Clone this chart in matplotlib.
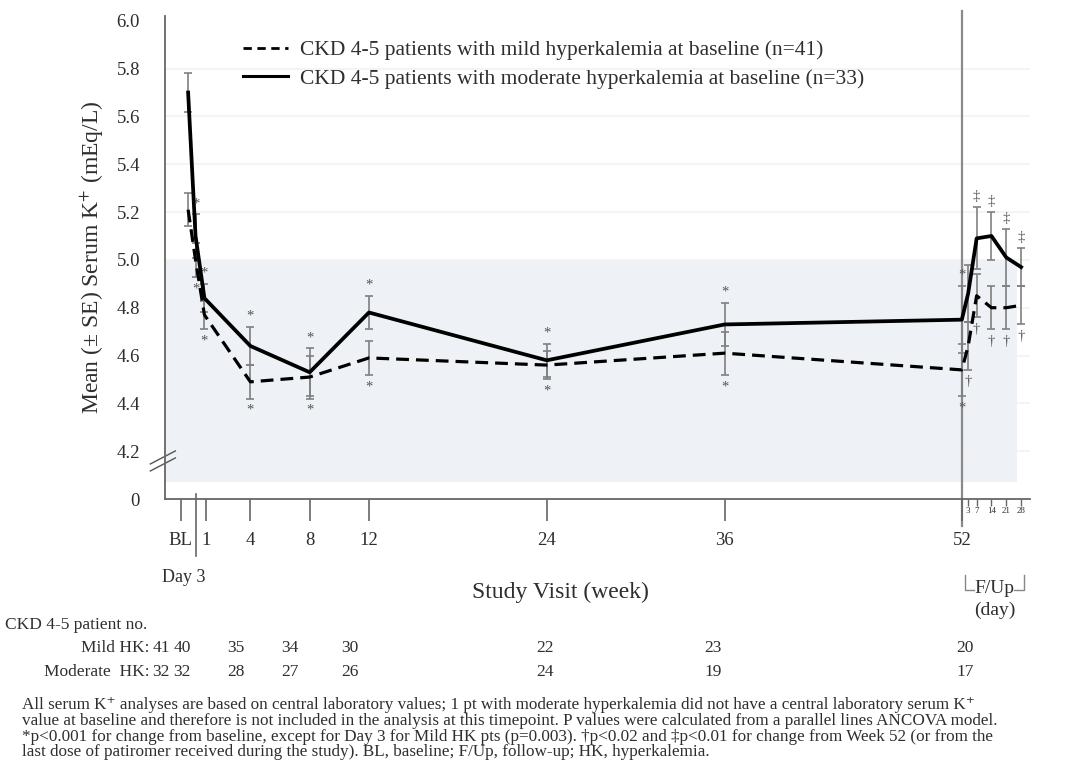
"""Serum K+ over time in CKD 4-5 patients, mild vs moderate hyperkalemia."""

import matplotlib
matplotlib.use("Agg")
import matplotlib.pyplot as plt
import matplotlib.transforms as mtransforms
from matplotlib.lines import Line2D

plt.rcParams["font.family"] = ["Liberation Serif", "DejaVu Serif"]
plt.rcParams["mathtext.fontset"] = "stix"

# visit positions in weeks (F/Up days converted to weeks after week 52)
visit_x = [-0.2, 0.3, 0.9, 4, 8, 12, 24, 36, 52, 52 + 3 / 7, 53, 54, 55, 56]

moderate_mean = [5.70, 5.10, 4.84, 4.64, 4.53, 4.78, 4.58, 4.73, 4.75, 4.86, 5.09, 5.10, 5.01, 4.97]
moderate_se = [0.08, 0.09, 0.06, 0.08, 0.10, 0.07, 0.07, 0.09, 0.14, 0.12, 0.13, 0.10, 0.12, 0.08]
mild_mean = [5.21, 5.00, 4.77, 4.49, 4.51, 4.59, 4.56, 4.61, 4.54, 4.64, 4.85, 4.80, 4.80, 4.81]
mild_se = [0.07, 0.07, 0.06, 0.07, 0.09, 0.07, 0.06, 0.09, 0.11, 0.10, 0.09, 0.09, 0.09, 0.08]

moderate_sig = ["", "*", "*", "*", "*", "*", "*", "*", "*", "", "‡", "‡", "‡", "‡"]
mild_sig = ["", "*", "*", "*", "*", "*", "*", "*", "*", "†", "†", "†", "†", "†"]

week_ticks = [-0.7, 1, 4, 8, 12, 24, 36, 52]
week_labels = ["BL", "1", "4", "8", "12", "24", "36", "52"]
fu_ticks = [52 + 3 / 7, 53, 54, 55, 56]
fu_labels = ["3", "7", "14", "21", "28"]

y_ticks = [4.0, 4.2, 4.4, 4.6, 4.8, 5.0, 5.2, 5.4, 5.6, 5.8, 6.0]
y_labels = ["0", "4.2", "4.4", "4.6", "4.8", "5.0", "5.2", "5.4", "5.6", "5.8", "6.0"]

n_cols_x = [161, 182, 236, 290, 350, 545, 713, 965]
mild_n = ["41", "40", "35", "34", "30", "22", "23", "20"]
moderate_n = ["32", "32", "28", "27", "26", "24", "19", "17"]

TXT = "#2e2e2e"
GREY = "#808080"

fig = plt.figure(figsize=(10.83, 7.78), dpi=100)
ax = fig.add_axes([165 / 1083, 1 - 499 / 778, 865 / 1083, 483 / 778])
ax.set_xlim(-1.76, 56.6)
ax.set_ylim(4.0, 6.02)

# shaded normal range and faint grid
ax.axhspan(4.07, 5.0, xmin=0, xmax=0.985, color="#eef1f6", lw=0, zorder=0)
for yv in y_ticks[1:-1]:
    ax.axhline(yv, color="#f2f2f2", lw=1.2, zorder=0.5)

# error bars
ax.errorbar(visit_x, moderate_mean, yerr=moderate_se, fmt="none", ecolor=GREY,
            elinewidth=1.2, capsize=3, capthick=1.2, zorder=2)
ax.errorbar(visit_x, mild_mean, yerr=mild_se, fmt="none", ecolor=GREY,
            elinewidth=1.2, capsize=3, capthick=1.2, zorder=2)

# lines
ax.plot(visit_x, mild_mean, color="black", lw=2.3, ls=(0, (4, 2.2)), zorder=3)
ax.plot(visit_x, moderate_mean, color="black", lw=2.7, zorder=4)

# significance marks
for x, m, s, sym in zip(visit_x, moderate_mean, moderate_se, moderate_sig):
    if sym:
        ax.text(x, m + s + 0.045, sym, ha="center", va="center", fontsize=10.5, color="#555555")
for x, m, s, sym in zip(visit_x, mild_mean, mild_se, mild_sig):
    if sym:
        ax.text(x, m - s - 0.05, sym, ha="center", va="center", fontsize=10.5, color="#555555")

# week 52 divider
ax.axvline(52, ymin=-0.055, ymax=1.01, color="#8a8a8a", lw=1.6, clip_on=False, zorder=1)

# axes styling
for side in ["top", "right"]:
    ax.spines[side].set_visible(False)
for side in ["left", "bottom"]:
    ax.spines[side].set_color("#666666")
    ax.spines[side].set_linewidth(1.3)

ax.set_yticks(y_ticks)
ax.set_yticklabels(y_labels)
ax.tick_params(axis="y", length=0, pad=18, labelsize=13.5, labelcolor=TXT)

ax.set_xticks(week_ticks)
ax.set_xticklabels(week_labels)
ax.tick_params(axis="x", which="major", direction="out", length=16, width=1.2,
               color="#666666", pad=8, labelsize=13.5, labelcolor=TXT)
ax.set_xticks(fu_ticks, minor=True)
ax.set_xticklabels(fu_labels, minor=True)
ax.tick_params(axis="x", which="minor", direction="out", length=5, width=1,
               color="#666666", pad=0.5, labelsize=6.5, labelcolor=TXT)

trans = mtransforms.blended_transform_factory(ax.transData, ax.transAxes)

# Day 3 long tick and label
ax.plot([0.3, 0.3], [0.01, -0.118], transform=trans, color="#666666", lw=1.2, clip_on=False)
ax.text(-0.5, -0.162, "Day 3", transform=trans, ha="center", va="center", fontsize=13, color=TXT)

# F/Up bracket
ax.plot([52.2, 52.2, 52.8], [-0.158, -0.188, -0.188], transform=trans, color="#888888",
        lw=1, clip_on=False)
ax.plot([55.5, 56.2, 56.2], [-0.188, -0.188, -0.158], transform=trans, color="#888888",
        lw=1, clip_on=False)
ax.text(54.2, -0.186, "F/Up", transform=trans, ha="center", va="center", fontsize=14, color=TXT)
ax.text(54.2, -0.23, "(day)", transform=trans, ha="center", va="center", fontsize=14, color=TXT)

# axis break mark
for dy in (0.0, 0.0145):
    ax.plot([-0.017, 0.012], [0.058 + dy, 0.085 + dy], transform=ax.transAxes,
            color="#555555", lw=1, clip_on=False)

ax.set_ylabel("Mean (± SE) Serum K$^{+}$ (mEq/L)", fontsize=17, color=TXT)
ax.yaxis.set_label_coords(-0.068, 0.5)
ax.set_xlabel("Study Visit (week)", fontsize=17, color=TXT)
ax.xaxis.set_label_coords(0.457, -0.193)
ax.xaxis.label.set_va("center")

# legend
handles = [Line2D([], [], color="black", lw=2.0, ls=(0, (3, 2))),
           Line2D([], [], color="black", lw=2.2)]
labels = ["CKD 4-5 patients with mild hyperkalemia at baseline (n=41)",
          "CKD 4-5 patients with moderate hyperkalemia at baseline (n=33)"]
leg = ax.legend(handles, labels, loc="upper left", bbox_to_anchor=(243 / 1083, 1 - 40 / 778),
                bbox_transform=fig.transFigure, frameon=False, fontsize=15.5,
                handlelength=2.1, handletextpad=0.55, borderpad=0, borderaxespad=0,
                labelspacing=0.4)
for t in leg.get_texts():
    t.set_color(TXT)

# patient numbers table
fig.text(5 / 1083, 1 - 625 / 778, "CKD 4-5 patient no.", fontsize=12.5, color=TXT, va="center")
fig.text(149 / 1083, 1 - 648 / 778, "Mild HK:", fontsize=12.5, color=TXT, va="center", ha="right")
fig.text(149 / 1083, 1 - 672 / 778, "Moderate  HK:", fontsize=12.5, color=TXT, va="center", ha="right")
for px, a, b in zip(n_cols_x, mild_n, moderate_n):
    fig.text(px / 1083, 1 - 648 / 778, a, fontsize=12.5, color=TXT, va="center", ha="center")
    fig.text(px / 1083, 1 - 672 / 778, b, fontsize=12.5, color=TXT, va="center", ha="center")

footnote = [
    "All serum K⁺ analyses are based on central laboratory values; 1 pt with moderate hyperkalemia did not have a central laboratory serum K⁺",
    "value at baseline and therefore is not included in the analysis at this timepoint. P values were calculated from a parallel lines ANCOVA model.",
    "*p<0.001 for change from baseline, except for Day 3 for Mild HK pts (p=0.003). †p<0.02 and ‡p<0.01 for change from Week 52 (or from the",
    "last dose of patiromer received during the study). BL, baseline; F/Up, follow-up; HK, hyperkalemia.",
]
fig.text(22 / 1083, 1 - 697 / 778, "\n".join(footnote), fontsize=12.3, color=TXT,
         va="top", linespacing=0.98)

fig.savefig("out.png", dpi=100)
